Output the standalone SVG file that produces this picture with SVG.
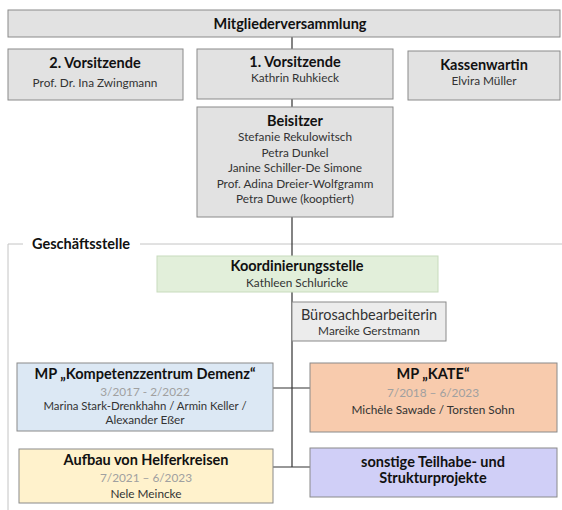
<svg xmlns="http://www.w3.org/2000/svg" width="562" height="510" viewBox="0 0 562 510">
<style>
text{font-family:Lato,"Liberation Sans",sans-serif;text-anchor:middle}
.t{font-weight:bold;font-size:14.5px;fill:#111}
.s{font-size:11.8px;fill:#333}
.d{font-size:11.8px;fill:#a0a0a0}
.g{fill:#e2e2e2;stroke:#8a8a8a;stroke-width:1}
.c{stroke:#333;stroke-width:1.2;fill:none}
</style>
<rect width="562" height="510" fill="#fff"/>
<g id="frame">
<path d="M8 510V244H562" stroke="#c4c4c4" stroke-width="1" fill="none"/>
<rect x="23" y="236" width="117" height="16" fill="#fff"/>
<text x="81" y="249" class="t">Geschäftsstelle</text>
</g>
<g id="connectors">
<path class="c" d="M292 37V49M292 99V107M292 217V467M273 388H310M273 467H310"/>
</g>
<g id="mitgliederversammlung">
<rect class="g" x="8" y="10" width="552" height="27"/>
<text x="290" y="29" class="t">Mitgliederversammlung</text>
</g>
<g id="vorsitzende2">
<rect class="g" x="8" y="49" width="175" height="51"/>
<text x="95" y="68" class="t">2. Vorsitzende</text>
<text x="95" y="87" class="s">Prof. Dr. Ina Zwingmann</text>
</g>
<g id="vorsitzende1">
<rect class="g" x="197" y="49" width="196" height="50"/>
<text x="295" y="67" class="t">1. Vorsitzende</text>
<text x="295" y="82" class="s">Kathrin Ruhkieck</text>
</g>
<g id="kassenwartin">
<rect class="g" x="408" y="51" width="152" height="49"/>
<text x="484" y="70" class="t">Kassenwartin</text>
<text x="484" y="85" class="s">Elvira Müller</text>
</g>
<g id="beisitzer">
<rect class="g" x="197" y="107" width="196" height="110"/>
<text x="295" y="126" class="t">Beisitzer</text>
<text x="295" y="141" class="s">Stefanie Rekulowitsch</text>
<text x="295" y="157" class="s">Petra Dunkel</text>
<text x="295" y="172" class="s">Janine Schiller-De Simone</text>
<text x="295" y="188" class="s">Prof. Adina Dreier-Wolfgramm</text>
<text x="295" y="203" class="s">Petra Duwe (kooptiert)</text>
</g>
<g id="koordinierungsstelle">
<rect x="157" y="256" width="281" height="36" fill="#e2efda" stroke="#c8dbbd"/>
<text x="297" y="271" class="t">Koordinierungsstelle</text>
<text x="297" y="287" class="s">Kathleen Schluricke</text>
</g>
<g id="buero">
<rect x="292" y="302" width="154" height="39" fill="#ececec" stroke="#8a8a8a"/>
<text x="369" y="320" style="font-size:14.5px;fill:#333">Bürosachbearbeiterin</text>
<text x="369" y="335" class="s">Mareike Gerstmann</text>
</g>
<g id="kompetenzzentrum">
<rect x="17" y="363" width="256" height="68" fill="#dce8f4" stroke="#8a8a8a"/>
<text x="145" y="379" class="t">MP „Kompetenzzentrum Demenz“</text>
<text x="145" y="396" class="d">3/2017 - 2/2022</text>
<text x="145" y="410" class="s" style="font-size:11.4px">Marina Stark-Drenkhahn / Armin Keller /</text>
<text x="145" y="424" class="s">Alexander Eßer</text>
</g>
<g id="kate">
<rect x="310" y="363" width="247" height="69" fill="#f8cbad" stroke="#8a8a8a"/>
<text x="433" y="379" class="t">MP „KATE“</text>
<text x="433" y="397" class="d">7/2018 – 6/2023</text>
<text x="433" y="414" class="s">Michèle Sawade / Torsten Sohn</text>
</g>
<g id="helferkreise">
<rect x="19" y="449" width="254" height="54" fill="#fff2cc" stroke="#8a8a8a"/>
<text x="146" y="465" class="t">Aufbau von Helferkreisen</text>
<text x="146" y="482" class="d">7/2021 – 6/2023</text>
<text x="146" y="498" class="s">Nele Meincke</text>
</g>
<g id="sonstige">
<rect x="310" y="448" width="247" height="49" fill="#d0cff7" stroke="#8a8a8a"/>
<text x="433" y="467" class="t">sonstige Teilhabe- und</text>
<text x="433" y="483" class="t">Strukturprojekte</text>
</g>
</svg>
